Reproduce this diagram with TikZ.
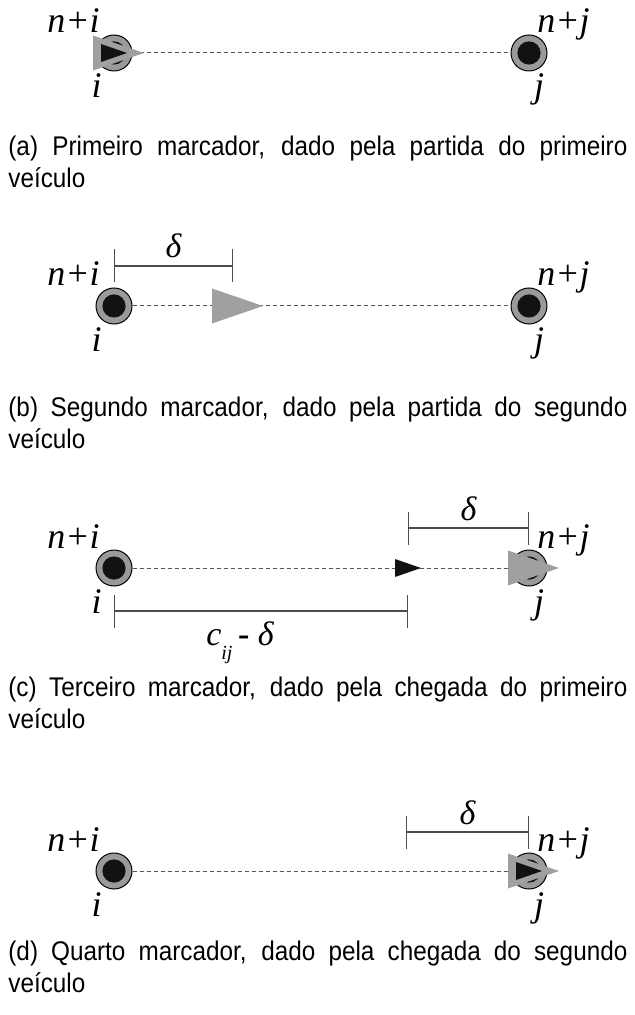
\documentclass[tikz,border=0pt]{standalone}
\usepackage{fontspec}
\setmainfont{Liberation Serif}
\newfontfamily\capfont[FakeStretch=0.9]{Liberation Sans}
\usetikzlibrary{arrows.meta,calc}
\definecolor{stopGrey}{HTML}{9A9A9A}
\definecolor{markGrey}{HTML}{A0A0A0}
\definecolor{dotInk}  {HTML}{121212}
\definecolor{routeC}  {HTML}{555555}
\definecolor{dimC}    {HTML}{4D4D4D}
\tikzset{
  stop/.style={circle,draw=black,line width=0.5pt,fill=stopGrey,
               minimum size=18pt,inner sep=0pt,
               path picture={\fill[dotInk] (path picture bounding box.center) circle (5.8pt);}},
  route/.style={draw=routeC,line width=0.5pt,dash pattern=on 2pt off 1.5pt},
  dimline/.style={draw=dimC,line width=0.6pt,
                  {Bar[width=16.5pt,line width=0.6pt]}-{Bar[width=16.5pt,line width=0.6pt]}},
  tag/.style={font=\fontsize{18}{18}\selectfont\itshape,inner sep=0pt},
  dimtag/.style={font=\fontsize{17}{17}\selectfont\itshape,inner sep=0pt,anchor=base},
  caption/.style={font=\capfont\fontsize{13.5}{16}\selectfont,text width=309.5pt,
                  align=justify,inner sep=0pt,anchor=base west},
  pics/markBig/.style={code={\fill[markGrey] (-21,-17.5) -- (30,0) -- (-21,17.5) -- cycle;}},
  pics/markSmall/.style={code={\fill[dotInk] (-13,-9) -- (13,0) -- (-13,9) -- cycle;}},
}

\begin{document}
\begin{tikzpicture}[x=0.5pt,y=-0.5pt]
\useasboundingbox (0,0) rectangle (635,1015);

% (a) first marker leaves i
\node[stop] (ia) at (114,53)  {};
\node[stop] (ja) at (529,53)  {};
\draw[route] (ia) -- (ja);
\pic at (ia) {markBig};
\pic at (ia) {markSmall};
\node[tag,anchor=base east] (nia) at ([xshift=-7pt,yshift=10pt]ia.center)    {n+i};
\node[tag,anchor=base east] (lia) at ([xshift=-6pt,yshift=-22.5pt]ia.center)  {i};
\node[tag,anchor=base west] (nja) at ([xshift=4pt,yshift=10pt]ja.center)     {n+j};
\node[tag,anchor=base]      (lja) at ([xshift=5pt,yshift=-22.5pt]ja.center)   {j};
\node[caption] (capa) at (8,156)
  {(a) Primeiro marcador, dado pela partida do primeiro\linebreak veículo};

% (b) second marker leaves i
\node[stop] (ib) at (114,306) {};
\node[stop] (jb) at (529,306) {};
\draw[route] (ib) -- (jb);
\coordinate (mb) at (233,306);
\pic at (mb) {markBig};
\draw[dimline] ([yshift=20pt]ib.center) -- ([yshift=20pt]mb);
\node[dimtag] (db) at ([yshift=24pt]$(ib.center)!0.5!(mb)$) {δ};
\node[tag,anchor=base east] (nib) at ([xshift=-7pt,yshift=10pt]ib.center)    {n+i};
\node[tag,anchor=base east] (lib) at ([xshift=-6pt,yshift=-22.5pt]ib.center)  {i};
\node[tag,anchor=base west] (njb) at ([xshift=4pt,yshift=10pt]jb.center)     {n+j};
\node[tag,anchor=base]      (ljb) at ([xshift=5pt,yshift=-22.5pt]jb.center)   {j};
\node[caption] (capb) at (8,416)
  {(b) Segundo marcador, dado pela partida do segundo\linebreak veículo};

% (c) first marker reaches j
\node[stop] (ic) at (114,568) {};
\node[stop] (jc) at (529,568) {};
\draw[route] (ic) -- (jc);
\coordinate (mc) at (408,568);
\pic at (mc) {markSmall};
\pic at (jc) {markBig};
\draw[dimline] ([yshift=20pt]mc) -- ([yshift=20pt]jc.center);
\node[dimtag] (dc) at ([yshift=24pt]$(mc)!0.5!(jc.center)$) {δ};
\draw[dimline] ([yshift=-21.5pt]ic.center) -- ([yshift=-21.5pt]mc);
\node[dimtag] (cc) at (240,645)
  {c\raisebox{-7pt}{\fontsize{10}{10}\selectfont ij}\,{\upshape\bfseries -} δ};
\node[tag,anchor=base east] (nic) at ([xshift=-7pt,yshift=10pt]ic.center)    {n+i};
\node[tag,anchor=base east] (lic) at ([xshift=-6pt,yshift=-22.5pt]ic.center)  {i};
\node[tag,anchor=base west] (njc) at ([xshift=4pt,yshift=10pt]jc.center)     {n+j};
\node[tag,anchor=base]      (ljc) at ([xshift=5pt,yshift=-22.5pt]jc.center)   {j};
\node[caption] (capc) at (8,696)
  {(c) Terceiro marcador, dado pela chegada do primeiro\linebreak veículo};

% (d) second marker reaches j
\node[stop] (id) at (114,871) {};
\node[stop] (jd) at (529,871) {};
\draw[route] (id) -- (jd);
\coordinate (md) at (406,871);
\pic at (jd) {markBig};
\pic at (jd) {markSmall};
\draw[dimline] ([yshift=19.5pt]md) -- ([yshift=19.5pt]jd.center);
\node[dimtag] (dd) at ([yshift=23.5pt]$(md)!0.5!(jd.center)$) {δ};
\node[tag,anchor=base east] (nid) at ([xshift=-7pt,yshift=10pt]id.center)    {n+i};
\node[tag,anchor=base east] (lid) at ([xshift=-6pt,yshift=-22.5pt]id.center)  {i};
\node[tag,anchor=base west] (njd) at ([xshift=4pt,yshift=10pt]jd.center)     {n+j};
\node[tag,anchor=base]      (ljd) at ([xshift=5pt,yshift=-22.5pt]jd.center)   {j};
\node[caption] (capd) at (8,960)
  {(d) Quarto marcador, dado pela chegada do segundo\linebreak veículo};

\end{tikzpicture}
\end{document}
